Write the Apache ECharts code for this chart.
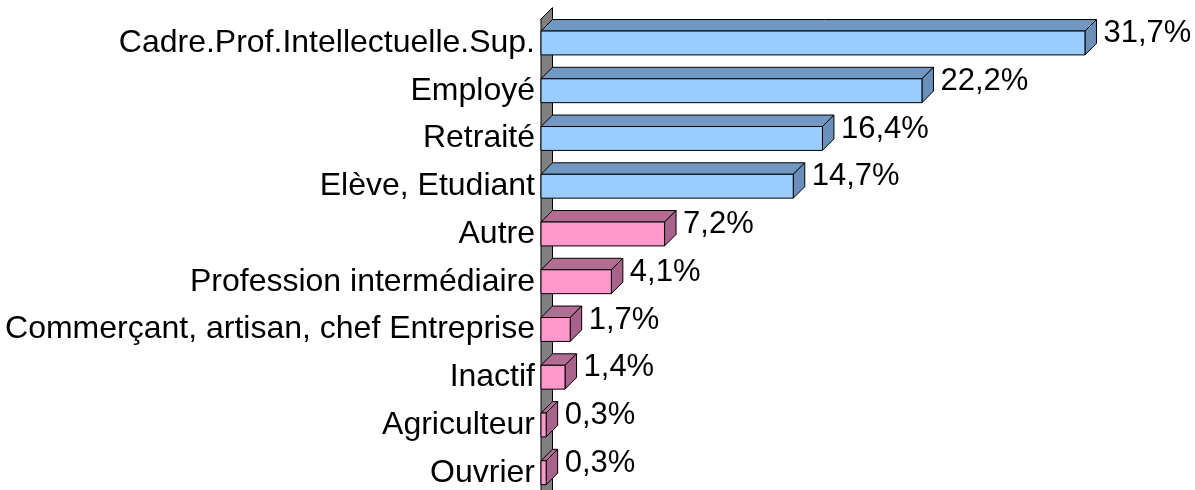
<!doctype html>
<html>
<head>
<meta charset="UTF-8">
<title>CSP</title>
<script src="https://cdn.jsdelivr.net/npm/echarts@6/dist/echarts.min.js"></script>
<style>
    html, body { margin: 0; padding: 0; background: #fff; }
    #main { width: 1195px; height: 490px; }
</style>
</head>
<body>
<div id="main"></div>
<script>
    // categories, top to bottom
    var categories = [
        'Cadre.Prof.Intellectuelle.Sup.',
        'Employé',
        'Retraité',
        'Elève, Etudiant',
        'Autre',
        'Profession intermédiaire',
        'Commerçant, artisan, chef Entreprise',
        'Inactif',
        'Agriculteur',
        'Ouvrier'
    ];
    var values = [31.7, 22.2, 16.4, 14.7, 7.2, 4.1, 1.7, 1.4, 0.3, 0.3];
    // A = blue bars, B = pink bars
    var groups = ['A', 'A', 'A', 'A', 'B', 'B', 'B', 'B', 'B', 'B'];

    var colors = {
        A: { front: '#99CCFF', top: '#7098C2', side: '#6A8FB8' },
        B: { front: '#FF99CC', top: '#B36C92', side: '#A8638A' }
    };
    var depth = 11.5;
    var font = 'Liberation Sans, Arial, sans-serif';

    function fmt(v) {
        return v.toFixed(1).replace('.', ',') + '%';
    }

    // gray wall behind the bars
    function renderWall(params, api) {
        var c = api.coord([0, 0]);
        var band = api.size([0, 1])[1];
        var x0 = c[0];
        var top = c[1] - band / 2;
        var bottom = top + band * categories.length + 20;
        return {
            type: 'polygon',
            shape: { points: [[x0, top], [x0 + depth, top - depth], [x0 + depth, bottom - depth], [x0, bottom]] },
            style: { fill: '#808080', stroke: '#000', lineWidth: 1 }
        };
    }

    function renderBar(params, api) {
        var idx = api.value(1);
        var val = api.value(0);
        var s = api.coord([0, idx]);
        var e = api.coord([val, idx]);
        var h = api.size([0, 1])[1] * 0.5;
        var x0 = s[0], x1 = e[0];
        var y0 = s[1] - h / 2, y1 = y0 + h;
        var c = colors[groups[params.dataIndex]];
        var line = { stroke: '#000', lineWidth: 1 };
        return {
            type: 'group',
            children: [
                {
                    type: 'polygon',
                    shape: { points: [[x0, y0], [x0 + depth, y0 - depth], [x1 + depth, y0 - depth], [x1, y0]] },
                    style: Object.assign({ fill: c.top }, line)
                },
                {
                    type: 'polygon',
                    shape: { points: [[x1, y0], [x1 + depth, y0 - depth], [x1 + depth, y1 - depth], [x1, y1]] },
                    style: Object.assign({ fill: c.side }, line)
                },
                {
                    type: 'rect',
                    shape: { x: x0, y: y0, width: x1 - x0, height: h },
                    style: Object.assign({ fill: c.front }, line)
                },
                {
                    type: 'text',
                    style: {
                        text: fmt(val),
                        x: x1 + depth + 7,
                        y: (y0 + y1) / 2 - depth + 2,
                        fill: '#000',
                        font: '31px ' + font,
                        align: 'left',
                        verticalAlign: 'middle'
                    }
                }
            ]
        };
    }

    var barData = values.map(function (v, i) { return [v, i]; });

    var chart = echarts.init(document.getElementById('main'));
    chart.setOption({
        animation: false,
        grid: {
            left: 541, top: 19.1, width: 600.6, height: 477.5,
            containLabel: false,
            outerBoundsMode: 'none'
        },
        xAxis: {
            type: 'value', min: 0, max: 35,
            show: false
        },
        yAxis: {
            type: 'category',
            data: categories,
            inverse: true,
            axisLine: { show: false },
            axisTick: { show: false },
            axisLabel: {
                margin: 6,
                color: '#000',
                fontSize: 32,
                fontFamily: font,
                padding: [3, 0, 0, 0]
            }
        },
        series: [
            {
                type: 'custom',
                renderItem: renderWall,
                data: [[0, 0]],
                encode: { x: 0, y: 1 },
                clip: false,
                silent: true,
                z: 1
            },
            {
                type: 'custom',
                renderItem: renderBar,
                data: barData,
                encode: { x: 0, y: 1 },
                clip: false,
                z: 2
            }
        ]
    });
</script>
</body>
</html>
